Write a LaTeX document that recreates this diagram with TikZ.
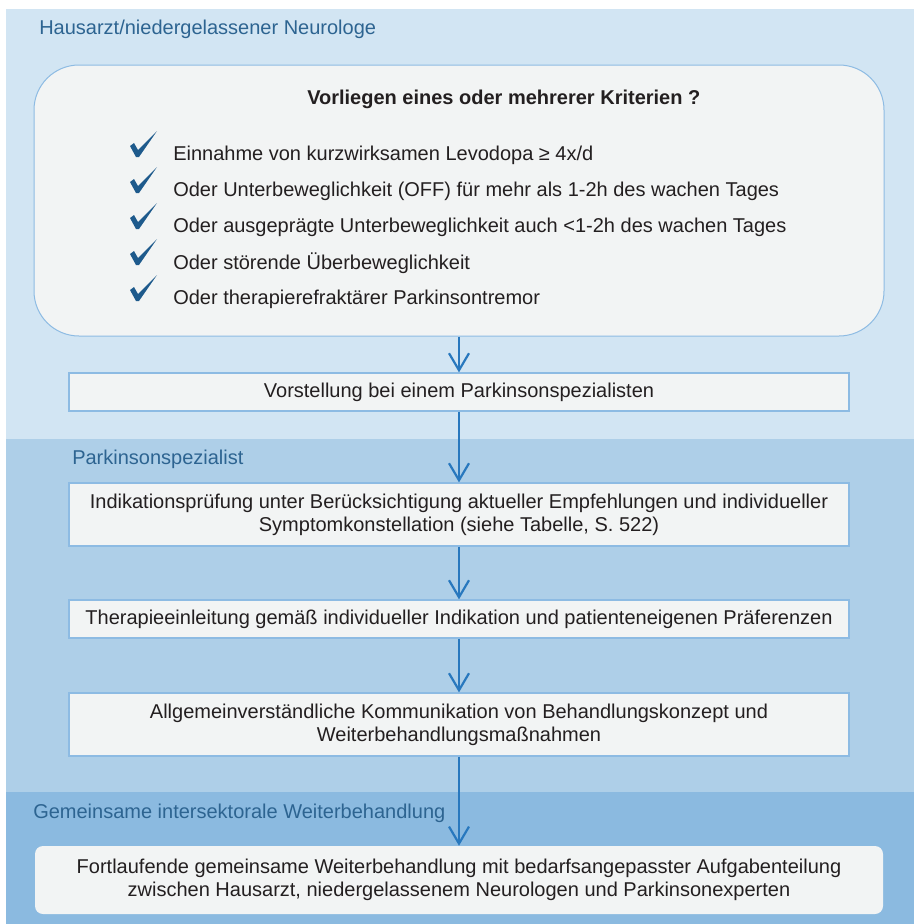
\documentclass[tikz,border=0pt]{standalone}
\usepackage{fontspec}
\setmainfont{Liberation Sans}
\usetikzlibrary{arrows.meta}

\definecolor{bandA}{HTML}{D2E5F3}
\definecolor{bandB}{HTML}{AECFE8}
\definecolor{bandC}{HTML}{8BBAE0}
\definecolor{boxfill}{HTML}{F2F4F4}
\definecolor{boxline}{HTML}{8DBBE3}
\definecolor{titleblue}{HTML}{2D6491}
\definecolor{arrowblue}{HTML}{2878BE}
\definecolor{chkblue}{HTML}{1E5A8C}
\definecolor{txt}{HTML}{231F20}

\newcommand{\haken}[2]{%
  \fill[chkblue, shift={(#1,#2)}] (-7,-10) -- (-3,-13) -- (1,-6) -- (20,-25) -- (2,1) -- (-1,1) -- cycle;}

\begin{document}
\begin{tikzpicture}[x=1pt, y=-1pt, line width=0.5pt,
  font=\fontsize{20}{23}\selectfont, text=txt,
  bandlabel/.style={anchor=west, inner sep=0pt, text=titleblue},
  stepbox/.style={draw=boxline, line width=1.2pt, fill=boxfill, align=center,
    minimum width=780pt, inner sep=0pt},
  item/.style={anchor=west, inner sep=0pt},
  pfeil/.style={draw=arrowblue, line width=2.2pt,
    -{Straight Barb[length=17pt, width=20pt]}}]
  \useasboundingbox (0,0) rectangle (914,924);
  % bands
  \fill[bandA] (6,9) rectangle (914,439);
  \fill[bandB] (6,439) rectangle (914,792);
  \fill[bandC] (6,792) rectangle (914,924);
  \node[bandlabel] (hausarzt) at (39,29) {Hausarzt/niedergelassener Neurologe};
  \node[bandlabel] (spezialist) at (72,459) {Parkinsonspezialist};
  \node[bandlabel] (gemeinsam) at (33,813) {Gemeinsame intersektorale Weiterbehandlung};
  % criteria
  \node[draw=boxline, line width=1pt, fill=boxfill, rounded corners=45pt,
    minimum width=850pt, minimum height=271pt] (kriterien) at (459,200.5) {};
  \node[font=\fontsize{20}{23}\selectfont\bfseries, inner sep=0pt, anchor=west] (frage) at (307,99)
    {Vorliegen eines oder mehrerer Kriterien ?};
  \foreach \txt [count=\i] in {Einnahme von kurzwirksamen Levodopa ≥ 4x/d,
      Oder Unterbeweglichkeit (OFF) für mehr als 1-2h des wachen Tages,
      Oder ausgeprägte Unterbeweglichkeit auch <1-2h des wachen Tages,
      Oder störende Überbeweglichkeit,
      Oder therapierefraktärer Parkinsontremor} {
    \node[item] (krit\i) at (173,119+36*\i) {\txt};
    \haken{137}{120+36*\i}
  }
  % steps
  \node[stepbox, minimum height=38pt] (vorstellung) at (459,392)
    {Vorstellung bei einem Parkinsonspezialisten};
  \node[stepbox, minimum height=63pt] (indikation) at (459,514.5)
    {Indikationsprüfung unter Berücksichtigung aktueller Empfehlungen und individueller\\
     Symptomkonstellation (siehe Tabelle, S. 522)};
  \node[stepbox, minimum height=38pt] (therapie) at (459,619)
    {Therapieeinleitung gemäß individueller Indikation und patienteneigenen Präferenzen};
  \node[stepbox, minimum height=63pt] (kommunikation) at (459,724.5)
    {Allgemeinverständliche Kommunikation von Behandlungskonzept und\\
     Weiterbehandlungsmaßnahmen};
  \node[fill=boxfill, rounded corners=8pt, align=center, inner sep=0pt,
    minimum width=848pt, minimum height=68pt] (weiter) at (459,880)
    {Fortlaufende gemeinsame Weiterbehandlung mit bedarfsangepasster Aufgabenteilung\\
     zwischen Hausarzt, niedergelassenem Neurologen und Parkinsonexperten};
  % arrows
  \draw[pfeil] (kriterien) -- (vorstellung);
  \draw[pfeil] (vorstellung) -- (indikation);
  \draw[pfeil] (indikation) -- (therapie);
  \draw[pfeil] (therapie) -- (kommunikation);
  \draw[pfeil] (kommunikation) -- (weiter);
\end{tikzpicture}
\end{document}
